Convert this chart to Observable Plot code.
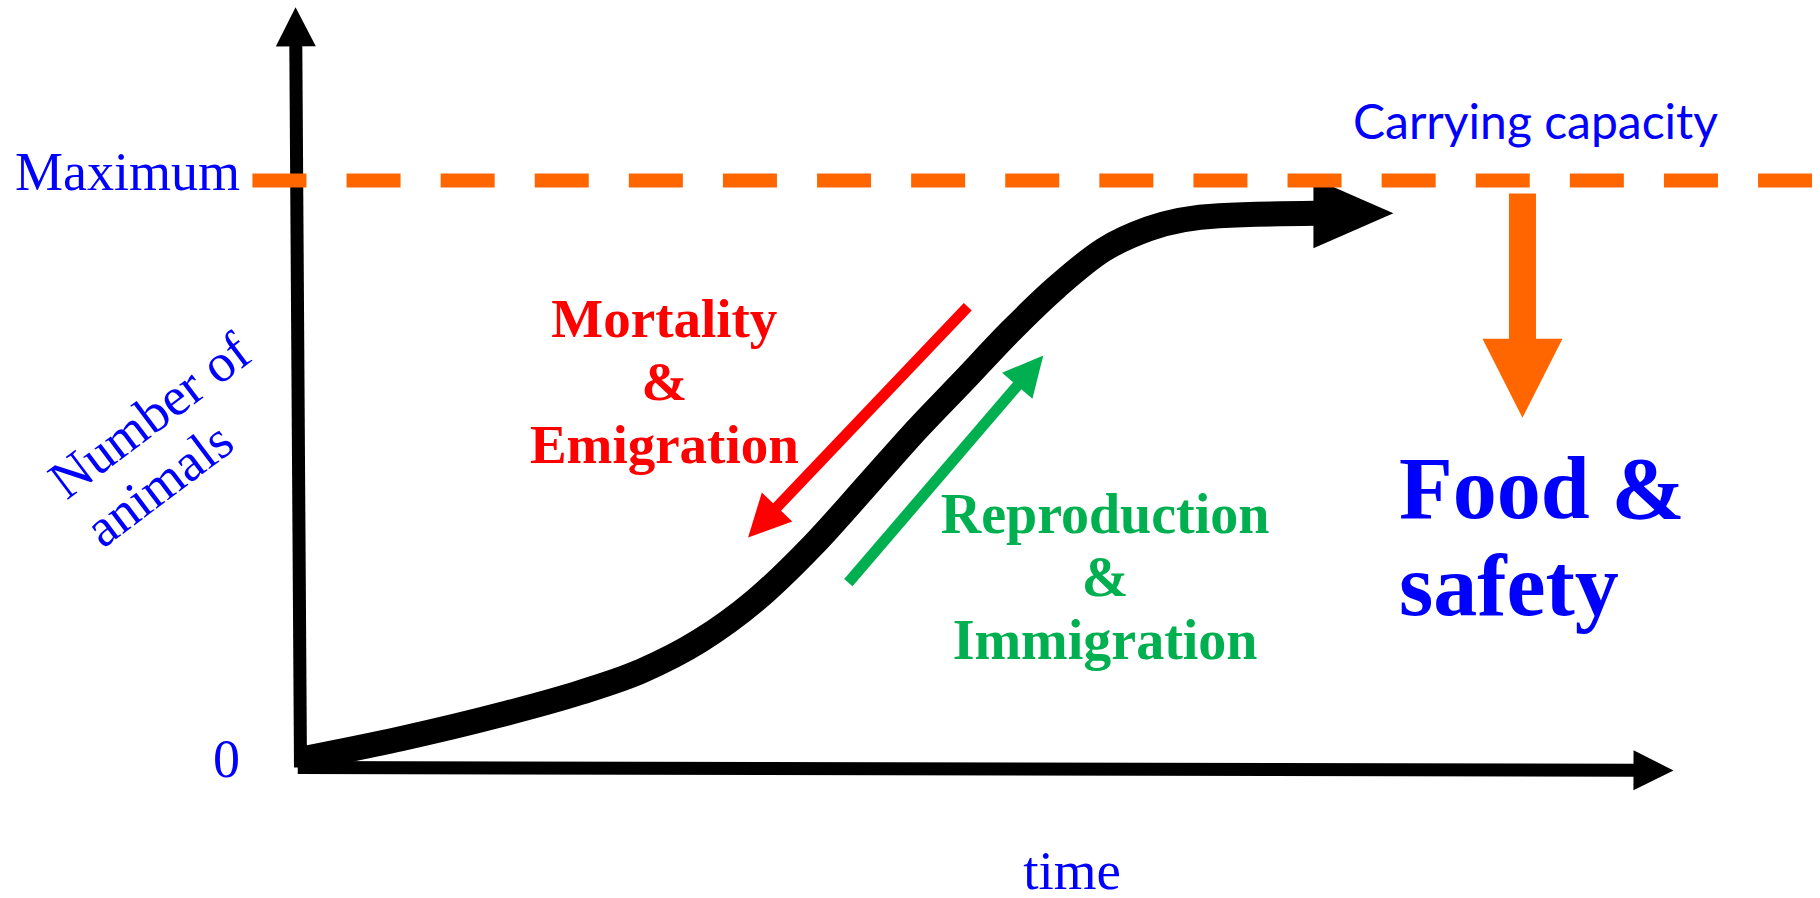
<!DOCTYPE html>
<html>
<head>
<meta charset="utf-8">
<script src="https://cdn.jsdelivr.net/npm/d3@7"></script>
<script src="https://cdn.jsdelivr.net/npm/@observablehq/plot@0.6"></script>
<style>
  html, body { margin: 0; padding: 0; background: #ffffff; }
  #chart svg { display: block; }
</style>
</head>
<body>
<div id="chart"></div>
<script>
// ---- data (time 0..100, number of animals 0..100 where 100 = carrying capacity) ----
const curveTime   = [0, 7.3, 14.6, 20.4, 24.8, 29.1, 33.1, 37.3, 41.5, 44.9, 48.3, 51.7, 55.1, 58.5, 61.8, 66.9, 73.9];
const curveNumber = [1.4, 4.9, 9.0, 12.8, 16.4, 21.6, 28.4, 37.8, 48.7, 57.6, 65.9, 74.3, 81.9, 88.2, 91.8, 94.0, 94.4];
const curveTip = [79.6, 94.4];

const carryingCapacity = 100;
const capacityExtent = [-3.5, 110.1];

// arrows: [x tail, y tail, x tip, y tip]
const yAxisArrow = [0, 0, -0.36, 129.5];
const xAxisArrow = [-0.2, 0, 100, -0.5];
const mortalityArrow = [48.6, 78.5, 32.6, 39.2];
const reproductionArrow = [39.9, 31.5, 54.1, 70.2];
const foodArrow = [89.0, 97.8, 89.0, 59.6];

// tick labels
const yTickLabels = ["0", "Maximum"];
const yTickValues = [0, 100];
const xTitle = "time";
const yTitle = "Number of\nanimals";

// annotations
const capacityLabel = "Carrying capacity";
const lossLabel = "Mortality\n&\nEmigration";
const gainLabel = "Reproduction\n&\nImmigration";
const resourceLabel = "Food &\nsafety";

// ---- layout ----
const W = 1820, H = 898;
const M = {top: 180, right: 147, bottom: 131, left: 300};
const kx = (W - M.left - M.right) / 100;   // px per time unit
const ky = (H - M.top - M.bottom) / 100;   // px per number unit

const BLUE = "#0000ff", RED = "#ff0000", GREEN = "#00b050", ORANGE = "#ff6600";
const SERIF = "'Liberation Serif', 'Times New Roman', serif";

// arrow geometry derived from data endpoints (head size in px)
function arrowParts([x1, y1, x2, y2], headLen, headHalf, overlap = 2) {
  const dxp = (x2 - x1) * kx, dyp = -(y2 - y1) * ky;
  const len = Math.hypot(dxp, dyp);
  const ux = dxp / len, uy = dyp / len;
  const bx = x2 * kx - ux * headLen, by = -y2 * ky - uy * headLen;
  const nx = -uy, ny = ux;
  const toData = (px, py) => ({x: px / kx, y: -py / ky});
  return {
    shaft: [{x: x1, y: y1}, toData(bx + ux * overlap, by + uy * overlap)],
    head: [toData(bx + nx * headHalf, by + ny * headHalf), {x: x2, y: y2}, toData(bx - nx * headHalf, by - ny * headHalf)]
  };
}

const curve = curveTime.map((t, i) => ({x: t, y: curveNumber[i]}));
const curveLast = curve[curve.length - 1];
const curveHead = arrowParts([curveLast.x, curveLast.y, curveTip[0], curveTip[1]], 80, 35, 0).head;

const yAx = arrowParts(yAxisArrow, 39, 20);
const xAx = arrowParts(xAxisArrow, 40, 20);
const red = arrowParts(mortalityArrow, 42, 21);
const green = arrowParts(reproductionArrow, 40, 20);
const food = arrowParts(foodArrow, 79, 40);

function arrowMarks(parts, color, width) {
  return [
    Plot.line(parts.shaft, {x: "x", y: "y", stroke: color, strokeWidth: width, strokeLinecap: "butt"}),
    Plot.line(parts.head, {x: "x", y: "y", fill: color, stroke: "none"})
  ];
}

const ticks = yTickLabels.map((t, i) => ({label: t, y: yTickValues[i]}));

const chart = Plot.plot({
  width: W,
  height: H,
  marginTop: M.top,
  marginRight: M.right,
  marginBottom: M.bottom,
  marginLeft: M.left,
  x: {domain: [0, 100], axis: null},
  y: {domain: [0, 100], axis: null},
  style: {background: "#ffffff", overflow: "visible"},
  marks: [
    ...arrowMarks(yAx, "#000", 13),
    ...arrowMarks(xAx, "#000", 13),
    Plot.line(curve, {x: "x", y: "y", curve: "monotone-x", stroke: "#000", strokeWidth: 25, strokeLinecap: "butt", strokeLinejoin: "round"}),
    Plot.line(curveHead, {x: "x", y: "y", fill: "#000", stroke: "none"}),
    ...arrowMarks(red, RED, 11),
    ...arrowMarks(green, GREEN, 11),
    ...arrowMarks(food, ORANGE, 27),
    Plot.line([{x: capacityExtent[0], y: carryingCapacity}, {x: capacityExtent[1], y: carryingCapacity}], {
      x: "x", y: "y", stroke: ORANGE, strokeWidth: 14, strokeDasharray: "54 40.1", strokeLinecap: "butt"
    }),
    // tick labels
    Plot.text(ticks, {x: () => -4.4, y: "y", text: "label", textAnchor: "end", lineAnchor: "bottom", dy: 9,
      fill: BLUE, fontFamily: SERIF, fontSize: 54}),
    // axis titles
    Plot.text([{x: 56.2, y: -20.7}], {x: "x", y: "y", text: () => xTitle, lineAnchor: "bottom",
      fill: BLUE, fontFamily: SERIF, fontSize: 55}),
    Plot.text([{x: -14.4, y: 37.2}], {x: "x", y: "y", text: () => yTitle, textAnchor: "start", lineAnchor: "bottom",
      lineHeight: 1.12, rotate: -37, fill: BLUE, fontFamily: SERIF, fontSize: 54}),
    // annotations
    Plot.text([{x: 89.95, y: 107.0}], {x: "x", y: "y", text: () => capacityLabel, lineAnchor: "bottom",
      fill: BLUE, fontFamily: "Lato, 'Open Sans', sans-serif", fontSize: 48}),
    Plot.text([{x: 26.5, y: 51.8}], {x: "x", y: "y", text: () => lossLabel, lineAnchor: "bottom", lineHeight: 1.145,
      fill: RED, fontFamily: SERIF, fontWeight: "bold", fontSize: 55}),
    Plot.text([{x: 58.6, y: 18.4}], {x: "x", y: "y", text: () => gainLabel, lineAnchor: "bottom", lineHeight: 1.13,
      fill: GREEN, fontFamily: SERIF, fontWeight: "bold", fontSize: 56}),
    Plot.text([{x: 80.0, y: 25.9}], {x: "x", y: "y", text: () => resourceLabel, textAnchor: "start", lineAnchor: "bottom",
      lineHeight: 1.11, fill: BLUE, fontFamily: SERIF, fontWeight: "bold", fontSize: 88})
  ]
});
document.getElementById("chart").appendChild(chart);
</script>
</body>
</html>
